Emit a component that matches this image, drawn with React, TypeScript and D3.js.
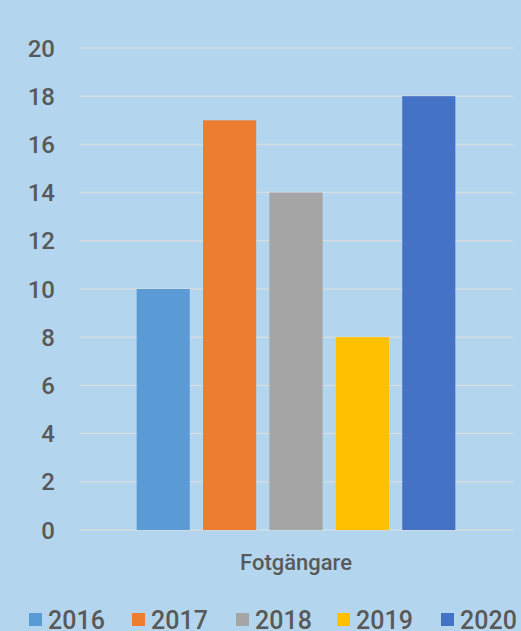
import React from "react";
import * as d3 from "d3";

const years = ["2016", "2017", "2018", "2019", "2020"];
const values = [10, 17, 14, 8, 18];
const colors = ["#5B9BD5", "#ED7D31", "#A5A5A5", "#FFC000", "#4472C4"];
const yTicks = [0, 2, 4, 6, 8, 10, 12, 14, 16, 18, 20];
const category = "Fotgängare";

export default function App() {
  const W = 521, H = 631;
  const y = d3.scaleLinear().domain([0, 20]).range([530, 48]);
  const band = d3.scaleBand().domain(years).range([130, 462]).paddingInner(0.2).paddingOuter(0.1);
  const font = "Roboto, 'Liberation Sans', Arial, sans-serif";
  const legendX = [29, 132, 236, 337, 441];
  return (
    <svg width={W} height={H} style={{ position: "absolute", left: 0, top: 0, background: "#B3D6EE" }}>
      <rect width={W} height={H} fill="#B3D6EE" />
      {yTicks.map((t) => (
        <g key={t}>
          <line x1={80} x2={513} y1={y(t)} y2={y(t)} stroke="#D3DCE3" strokeWidth={1.5} />
          <text x={55} y={y(t)} dy="0.36em" textAnchor="end" fontFamily={font} fontWeight={500} fontSize={24} fill="#595959">{t}</text>
        </g>
      ))}
      {years.map((yr, i) => (
        <rect key={yr} x={band(yr)} width={band.bandwidth()} y={y(values[i])} height={y(0) - y(values[i])} fill={colors[i]} />
      ))}
      <text x={296} y={562} dy="0.36em" textAnchor="middle" fontFamily={font} fontWeight={500} fontSize={22} fill="#595959">{category}</text>
      {years.map((yr, i) => (
        <g key={yr}>
          <rect x={legendX[i]} y={613} width={13} height={13} fill={colors[i]} />
          <text x={legendX[i] + 19} y={619.5} dy="0.36em" fontFamily={font} fontWeight={500} fontSize={25} fill="#595959">{yr}</text>
        </g>
      ))}
    </svg>
  );
}
